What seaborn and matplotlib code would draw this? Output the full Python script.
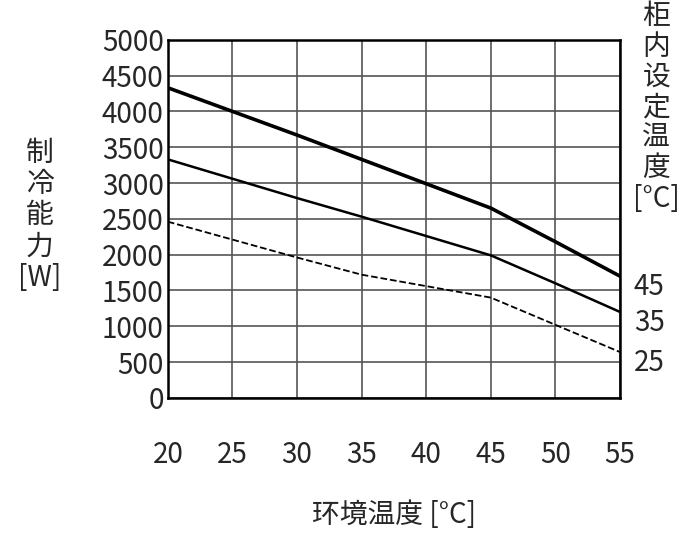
import matplotlib.pyplot as plt
import seaborn as sns
import pandas as pd

ambient = [20, 25, 30, 35, 40, 45, 50, 55]
temp_45 = [4330, 4000, 3670, 3330, 2990, 2650, 2180, 1700]
temp_35 = [3330, 3060, 2790, 2530, 2260, 1990, 1600, 1200]
temp_25 = [2460, 2210, 1960, 1720, 1560, 1400, 1020, 640]
setpoints = ["45", "35", "25"]

sns.set_style("white")
plt.rcParams['font.family'] = ['Noto Sans CJK JP', 'DejaVu Sans']
fs = 20

fig = plt.figure(figsize=(6.85, 5.45), dpi=100)
ax = fig.add_axes([0.245, 0.270, 0.66, 0.657])

df = pd.DataFrame({"x": ambient, "45": temp_45, "35": temp_35, "25": temp_25})
sns.lineplot(data=df, x="x", y="45", ax=ax, color="black", lw=2.6)
sns.lineplot(data=df, x="x", y="35", ax=ax, color="black", lw=1.8)
sns.lineplot(data=df, x="x", y="25", ax=ax, color="black", lw=1.3, linestyle="--")

ax.set_xlim(20, 55)
ax.set_ylim(0, 5000)
ax.set_xticks(range(20, 56, 5))
ax.set_yticks(range(0, 5001, 500))
ax.grid(True, color="#555555", lw=1.2)
for s in ax.spines.values():
    s.set_color("black")
    s.set_linewidth(1.8)
ax.tick_params(axis="y", labelsize=fs, pad=3, length=0)
ax.tick_params(axis="x", labelsize=fs, pad=30, length=0)
ax.set_xlabel("环境温度 [°C]", fontsize=fs, labelpad=22)
ax.set_ylabel("")

for vals, lab in zip([temp_45, temp_35, temp_25], setpoints):
    ax.annotate(lab, (55, vals[-1]), xytext=(10, -8), textcoords="offset points",
                va="center", fontsize=fs, annotation_clip=False)

fig.text(0.058, 0.605, "制\n冷\n能\n力\n[W]", fontsize=fs, ha="center", va="center",
         linespacing=1.05)
fig.text(0.958, 0.998, "柜\n内\n设\n定\n温\n度\n[°C]", fontsize=fs, ha="center", va="top",
         linespacing=1.02)

fig.savefig("out.png", dpi=100)
